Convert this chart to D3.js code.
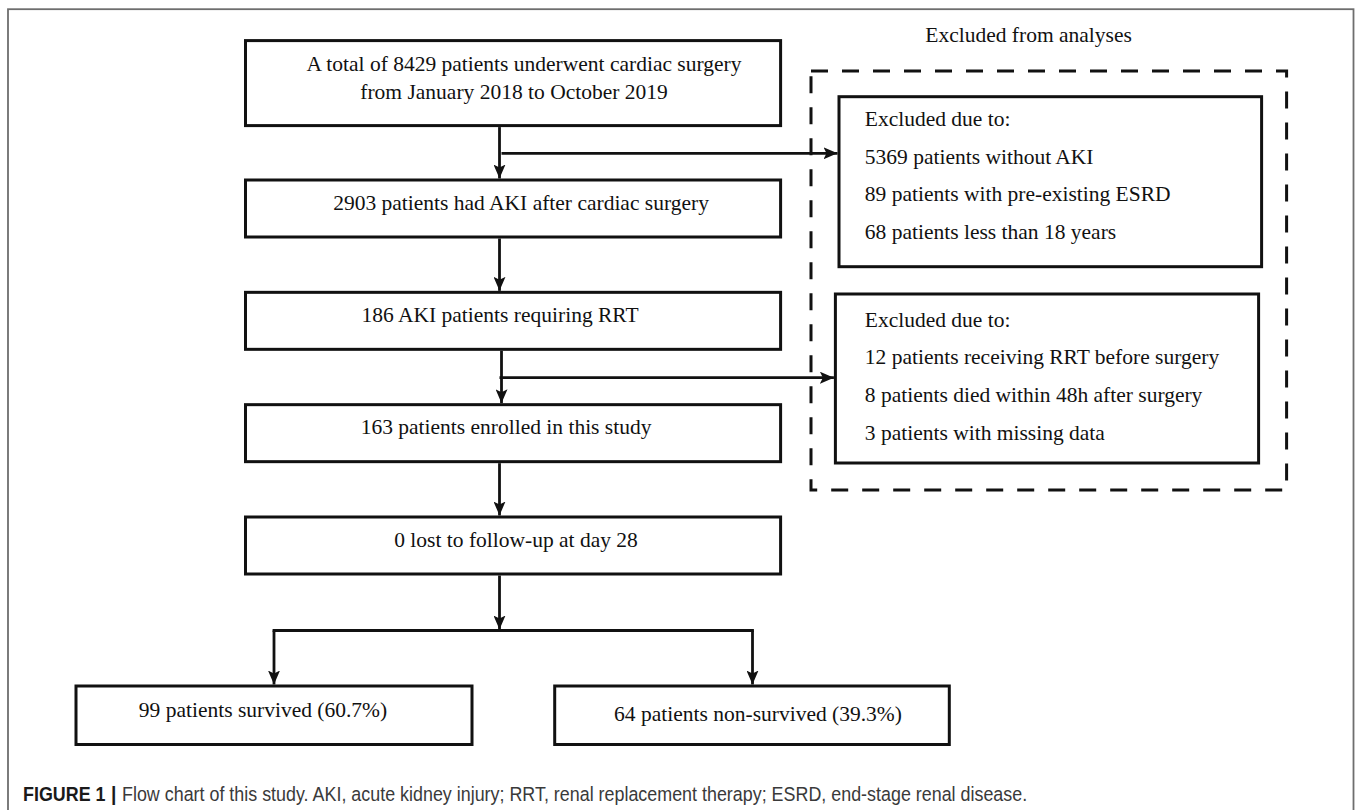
<!DOCTYPE html>
<html>
<head>
<meta charset="utf-8">
<script src="https://cdn.jsdelivr.net/npm/d3@7"></script>
<style>
  html, body { margin: 0; padding: 0; background: #fff; }
  svg { display: block; }
</style>
</head>
<body>
<svg id="chart" width="1357" height="810"></svg>
<script>
// ---------------- data ----------------
const stepLabels = [
  ["A total of 8429 patients underwent cardiac surgery", "from January 2018 to October 2019"],
  ["2903 patients had AKI after cardiac surgery"],
  ["186 AKI patients requiring RRT"],
  ["163 patients enrolled in this study"],
  ["0 lost to follow-up at day 28"]
];
const exclusionTitle = "Excluded from analyses";
const exclusionHeader = "Excluded due to:";
const exclusionsBeforeAKI = [
  "5369 patients without AKI",
  "89 patients with pre-existing ESRD",
  "68 patients less than 18 years"
];
const exclusionsBeforeEnrolment = [
  "12 patients receiving RRT before surgery",
  "8 patients died within 48h after surgery",
  "3 patients with missing data"
];
const outcomeLabels = ["99 patients survived (60.7%)", "64 patients non-survived (39.3%)"];
const captionLead = "FIGURE 1";
const captionText = "Flow chart of this study. AKI, acute kidney injury; RRT, renal replacement therapy; ESRD, end-stage renal disease.";

// ---------------- layout ----------------
const svg = d3.select("#chart");
const SERIF = "'Liberation Serif','Times New Roman',Times,serif";
const FS = 21.5;
const INK = "#111";

// vertical position of the main steps
const stepTop = d3.scaleLinear().domain([1, 4]).range([180, 517]);
const mainX = d3.scaleLinear().domain([0, 1]).range([245.5, 780.6]);
const colX = 499.5;

const steps = stepLabels.map((lines, i) => {
  const top = i === 0 ? 40.6 : stepTop(i);
  const h = i === 0 ? 85 : 57;
  return { i, lines, top, h };
});
const textDx = [[11, 1], [8], [-13], [-7], [3]];

// frame
svg.append("rect")
  .attr("x", 8).attr("y", 9.2).attr("width", 1345.5).attr("height", 830)
  .attr("fill", "none").attr("stroke", "#6e6e6e").attr("stroke-width", 1.8);

// arrow marker
const defs = svg.append("defs");
defs.append("marker")
  .attr("id", "arr").attr("viewBox", "0 0 14 12")
  .attr("refX", 14).attr("refY", 6)
  .attr("markerWidth", 14).attr("markerHeight", 12)
  .attr("markerUnits", "userSpaceOnUse")
  .attr("orient", "auto")
  .append("path").attr("d", "M0,0 L14,6 L0,12 L3,6 Z").attr("fill", INK);

const line = d3.line();
function arrow(pts, head = true) {
  const p = svg.append("path")
    .attr("d", line(pts))
    .attr("fill", "none").attr("stroke", INK).attr("stroke-width", 2.8);
  if (head) p.attr("marker-end", "url(#arr)");
  return p;
}

// main boxes
const gSteps = svg.append("g");
gSteps.selectAll("rect").data(steps).join("rect")
  .attr("x", mainX(0)).attr("y", d => d.top)
  .attr("width", mainX(1) - mainX(0)).attr("height", d => d.h)
  .attr("fill", "#fff").attr("stroke", INK).attr("stroke-width", 3);

const cx = (mainX(0) + mainX(1)) / 2;
steps.forEach(s => {
  s.lines.forEach((t, j) => {
    const baseline = s.i === 0 ? [70.5, 99][j] : s.top + 29.8;
    svg.append("text")
      .attr("x", cx + textDx[s.i][j]).attr("y", baseline)
      .attr("text-anchor", "middle")
      .attr("font-family", SERIF).attr("font-size", FS).attr("fill", INK)
      .text(t);
  });
});

// vertical arrows between main boxes
for (let k = 0; k < steps.length - 1; k++) {
  const a = steps[k], b = steps[k + 1];
  const x = k === 2 ? colX + 2 : colX;
  arrow([[x, a.top + a.h + 1.5], [x, b.top - 1.5]]);
}

// exclusion region
const dash = { x0: 811, x1: 1286.6, y0: 71, y1: 490 };
svg.append("rect")
  .attr("x", dash.x0).attr("y", dash.y0)
  .attr("width", dash.x1 - dash.x0).attr("height", dash.y1 - dash.y0)
  .attr("fill", "none").attr("stroke", INK).attr("stroke-width", 3)
  .attr("stroke-dasharray", "17,14");

svg.append("text")
  .attr("x", 1028.6).attr("y", 41.7).attr("text-anchor", "middle")
  .attr("font-family", SERIF).attr("font-size", FS).attr("fill", INK)
  .text(exclusionTitle);

const exclBoxes = [
  { items: exclusionsBeforeAKI, x0: 839, x1: 1261.6, y0: 96.7, y1: 266.7, base: 126, arrowY: 153.3, from: colX + 2 },
  { items: exclusionsBeforeEnrolment, x0: 835.4, x1: 1258.6, y0: 294, y1: 463, base: 326.7, arrowY: 377.7, from: colX }
];
const lineGap = 37.6;
exclBoxes.forEach(b => {
  arrow([[b.from, b.arrowY], [b.x0 - 1.5, b.arrowY]]);
  svg.append("rect")
    .attr("x", b.x0).attr("y", b.y0)
    .attr("width", b.x1 - b.x0).attr("height", b.y1 - b.y0)
    .attr("fill", "#fff").attr("stroke", INK).attr("stroke-width", 3);
  const rows = [exclusionHeader].concat(b.items);
  svg.append("g").selectAll("text").data(rows).join("text")
    .attr("x", 864.8).attr("y", (d, i) => b.base + i * lineGap)
    .attr("font-family", SERIF).attr("font-size", FS).attr("fill", INK)
    .text(d => d);
});

// outcome split
const outX = d3.scalePoint().domain(outcomeLabels).range([274, 752.5]);
const outBox = [[76, 472], [554.7, 949.3]];
const outDx = [-11, 6];
const splitY = 630.5, outTop = 686, outH = 58.5;
const last = steps[steps.length - 1];
arrow([[colX, last.top + last.h + 1.5], [colX, splitY - 1]]);
arrow([[outX(outcomeLabels[0]), splitY], [outX(outcomeLabels[1]), splitY]], false)
  .attr("stroke-linecap", "square");
outcomeLabels.forEach((lab, i) => {
  const x = outX(lab);
  arrow([[x, splitY], [x, outTop - 1.5]]);
  svg.append("rect")
    .attr("x", outBox[i][0]).attr("y", outTop)
    .attr("width", outBox[i][1] - outBox[i][0]).attr("height", outH)
    .attr("fill", "#fff").attr("stroke", INK).attr("stroke-width", 3);
  svg.append("text")
    .attr("x", (outBox[i][0] + outBox[i][1]) / 2 + outDx[i])
    .attr("y", [716.7, 721][i])
    .attr("text-anchor", "middle")
    .attr("font-family", SERIF).attr("font-size", FS).attr("fill", INK)
    .text(lab);
});

// caption: condensed sans via a horizontal scale of the group
const SANS = "'Liberation Sans',Arial,Helvetica,sans-serif";
const capG = svg.append("g");
const capFS = 19.5;
const t1 = capG.append("text").attr("x", 0).attr("y", 0)
  .attr("font-family", SANS).attr("font-weight", "bold").attr("font-size", capFS)
  .attr("fill", "#1a1a1a").text(captionLead);
const w1 = t1.node().getComputedTextLength();
const t2 = capG.append("text").attr("x", w1 + 6).attr("y", 0)
  .attr("font-family", SANS).attr("font-weight", "bold").attr("font-size", capFS + 1.5)
  .attr("fill", "#1a1a1a").text("|");
const w2 = t2.node().getComputedTextLength();
const x3 = w1 + 6 + w2 + 6;
const t3 = capG.append("text").attr("x", x3).attr("y", 0)
  .attr("font-family", SANS).attr("font-size", capFS)
  .attr("fill", "#3a3a3a").text(captionText);
const total = x3 + t3.node().getComputedTextLength();
const sx = (1028 - 23) / total;
capG.attr("transform", `translate(23,800.5) scale(${sx},1)`);
</script>
</body>
</html>
